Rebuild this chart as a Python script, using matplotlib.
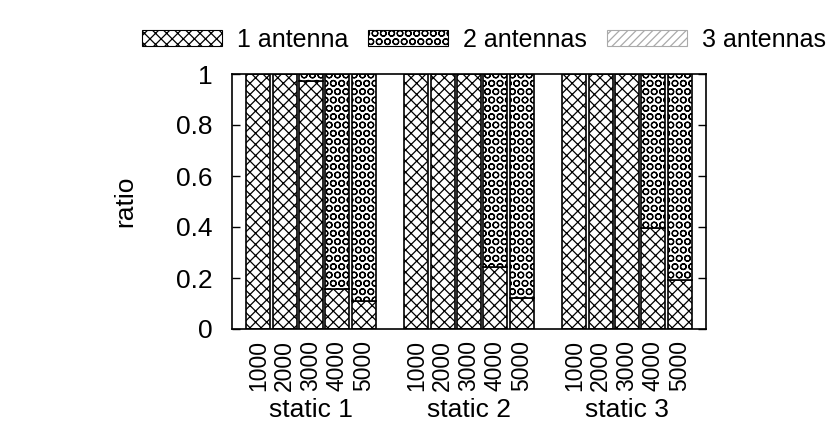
import matplotlib
matplotlib.use("Agg")
import matplotlib.pyplot as plt
from matplotlib.patches import Patch
import numpy as np

plt.rcParams['font.family'] = ['Liberation Sans', 'DejaVu Sans']
plt.rcParams['hatch.linewidth'] = 0.9

groups = ["static 1", "static 2", "static 3"]
sizes = ["1000", "2000", "3000", "4000", "5000"]
series = ["1 antenna", "2 antennas", "3 antennas"]

# ratio per bar, group after group
one_ant = [1.0, 1.0, 0.973, 0.158, 0.111,
           1.0, 1.0, 1.0, 0.245, 0.120,
           1.0, 1.0, 1.0, 0.395, 0.192]
two_ant = [0.0, 0.0, 0.027, 0.842, 0.889,
           0.0, 0.0, 0.0, 0.755, 0.880,
           0.0, 0.0, 0.0, 0.605, 0.808]
three_ant = [0.0] * 15

fig = plt.figure(figsize=(8.4, 4.22), dpi=100)
ax = fig.add_axes([232 / 840, 1 - 329 / 422, (706 - 232) / 840, (329 - 74) / 422])

xs = []
for g in range(len(groups)):
    for j in range(len(sizes)):
        xs.append(g * (len(sizes) + 1) + j)
xs = np.array(xs)

w = 0.92
ax.bar(xs, one_ant, w, color="white", edgecolor="black", hatch="xxx", linewidth=1.2)
ax.bar(xs, two_ant, w, bottom=one_ant, color="white", edgecolor="black",
       hatch="OO", linewidth=1.2)
bot3 = np.array(one_ant) + np.array(two_ant)
ax.bar(xs, three_ant, w, bottom=bot3, color="white", edgecolor="#999999",
       hatch="////", linewidth=0.0)

ax.set_xlim(-1, 17)
ax.set_ylim(0, 1)
ax.set_yticks([0, 0.2, 0.4, 0.6, 0.8, 1])
ax.set_yticklabels(["0", "0.2", "0.4", "0.6", "0.8", "1"], fontsize=19)
ax.set_xticks(xs)
ax.set_xticklabels(sizes * len(groups), rotation=90, fontsize=16.5)
ax.tick_params(axis="x", length=0, pad=8)
ax.tick_params(axis="y", direction="in", right=True, length=6, width=1, pad=14)
for s in ax.spines.values():
    s.set_linewidth(1.2)
ax.set_ylabel("ratio", fontsize=19, labelpad=28)

for g, name in enumerate(groups):
    cx = g * (len(sizes) + 1) + (len(sizes) - 1) / 2
    ax.annotate(name, xy=(cx, 0), xycoords=("data", "axes fraction"),
                xytext=(0, -58), textcoords="offset points",
                ha="center", va="center", fontsize=19)

handles = [
    Patch(facecolor="white", edgecolor="black", hatch="xxx", linewidth=0.8),
    Patch(facecolor="white", edgecolor="black", hatch="OO", linewidth=0.8),
    Patch(facecolor="white", edgecolor="#aaaaaa", hatch="////", linewidth=0.8),
]
fig.legend(handles, series, loc="upper right", bbox_to_anchor=(1.004, 0.975),
           ncol=3, frameon=False, fontsize=18, handlelength=3.2, handleheight=0.6,
           columnspacing=0.8, handletextpad=0.6, borderpad=0.2)

fig.savefig("out.png", dpi=100)
